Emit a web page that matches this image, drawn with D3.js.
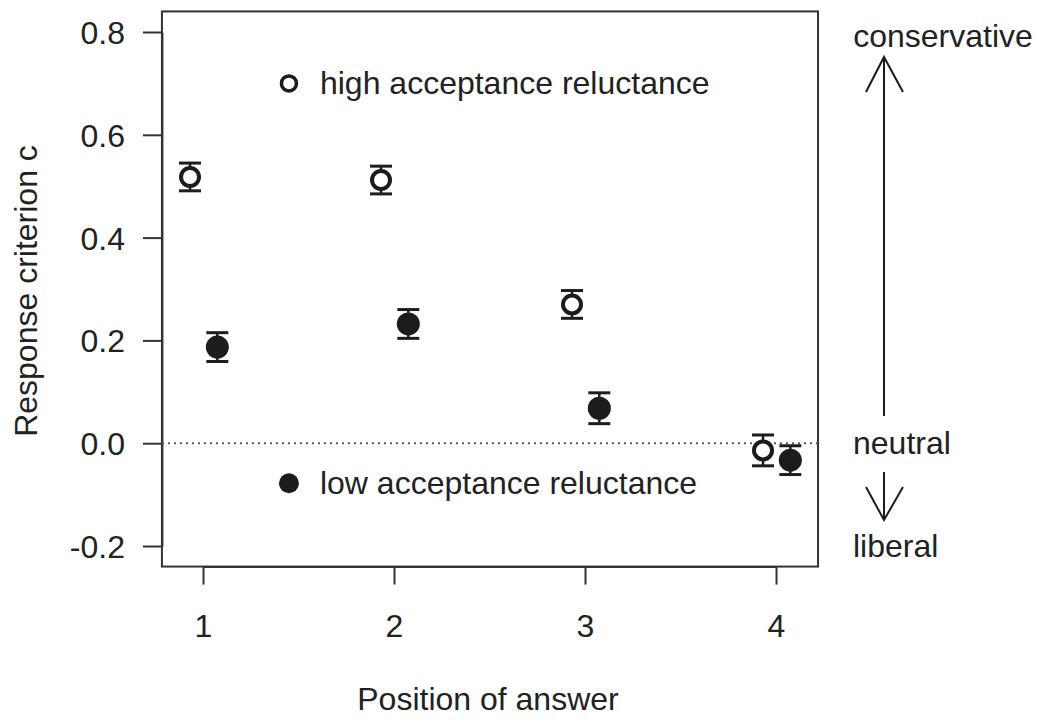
<!DOCTYPE html>
<html>
<head>
<meta charset="utf-8">
<script src="https://cdn.jsdelivr.net/npm/d3@7"></script>
<style>
  body { margin: 0; background: #fff; }
  text { font-family: "Liberation Sans", Arial, sans-serif; fill: #222; }
</style>
</head>
<body>
<div id="chart-area"></div>
<script>
// data
var positions = [1, 2, 3, 4];
var highValues = [0.518, 0.512, 0.270, -0.014];
var highErrors = [0.027, 0.027, 0.027, 0.030];
var lowValues = [0.187, 0.232, 0.068, -0.033];
var lowErrors = [0.028, 0.028, 0.030, 0.028];
var yTicks = [-0.2, 0, 0.2, 0.4, 0.6, 0.8];
var legendLabels = ["high acceptance reluctance", "low acceptance reluctance"];

var width = 1040, height = 722;
var fs = "32px";

var svg = d3.select("#chart-area")
    .append("svg")
    .attr("width", width)
    .attr("height", height);

var x = d3.scaleLinear().domain([1, 4]).range([203, 776]);
var y = d3.scaleLinear().domain([-0.2, 0.8]).range([546, 32]);

var ink = "#1c1c1c";

// plot box
var x0 = x(0.785), x1 = x(4.22), y0 = y(0.84), y1 = y(-0.24);
svg.append("rect")
    .attr("x", x0).attr("y", y0)
    .attr("width", x1 - x0).attr("height", y1 - y0)
    .attr("fill", "none")
    .attr("stroke", "#333")
    .attr("stroke-width", 2);

// axes
var yAxis = d3.axisLeft(y)
    .tickValues(yTicks)
    .tickSize(19)
    .tickSizeOuter(0)
    .tickPadding(18)
    .tickFormat(function (d) { return d.toFixed(1); });

var gy = svg.append("g")
    .attr("transform", "translate(" + x0 + ",0)")
    .call(yAxis);

var xAxis = d3.axisBottom(x)
    .tickValues(positions)
    .tickSize(18)
    .tickSizeOuter(0)
    .tickPadding(30)
    .tickFormat(d3.format("d"));

var gx = svg.append("g")
    .attr("transform", "translate(0," + y1 + ")")
    .call(xAxis);

[gx, gy].forEach(function (g) {
    g.select(".domain").attr("stroke", "#333").attr("stroke-width", 2);
    g.selectAll(".tick line").attr("stroke", "#333").attr("stroke-width", 2);
    g.selectAll(".tick text")
        .attr("fill", "#222")
        .style("font-family", "'Liberation Sans', Arial, sans-serif")
        .style("font-size", fs);
});
gy.selectAll(".tick text").attr("dy", "0.36em");

// axis titles
svg.append("text")
    .attr("x", (x0 + x1) / 2 - 2)
    .attr("y", 710)
    .attr("text-anchor", "middle")
    .style("font-size", fs)
    .text("Position of answer");

svg.append("text")
    .attr("transform", "translate(37," + ((y0 + y1) / 2 + 2) + ") rotate(-90)")
    .attr("text-anchor", "middle")
    .style("font-size", fs)
    .text("Response criterion c");

// zero reference line
svg.append("line")
    .attr("x1", x0).attr("x2", x1)
    .attr("y1", y(0)).attr("y2", y(0))
    .attr("stroke", "#555")
    .attr("stroke-width", 2)
    .attr("stroke-dasharray", "2,4");

// points with error bars
var series = [
    { values: highValues, errors: highErrors, offset: -0.068, filled: false },
    { values: lowValues, errors: lowErrors, offset: 0.075, filled: true }
];

series.forEach(function (s) {
    var pts = positions.map(function (p, i) {
        return { x: p + s.offset, v: s.values[i], e: s.errors[i] };
    });
    var g = svg.append("g");
    var capW = 11;

    g.selectAll(".bar")
        .data(pts).enter()
        .append("line")
        .attr("x1", function (d) { return x(d.x); })
        .attr("x2", function (d) { return x(d.x); })
        .attr("y1", function (d) { return y(d.v + d.e); })
        .attr("y2", function (d) { return y(d.v - d.e); })
        .attr("stroke", ink).attr("stroke-width", 2.5);

    g.selectAll(".capTop")
        .data(pts).enter()
        .append("line")
        .attr("x1", function (d) { return x(d.x) - capW; })
        .attr("x2", function (d) { return x(d.x) + capW; })
        .attr("y1", function (d) { return y(d.v + d.e); })
        .attr("y2", function (d) { return y(d.v + d.e); })
        .attr("stroke", ink).attr("stroke-width", 3);

    g.selectAll(".capBot")
        .data(pts).enter()
        .append("line")
        .attr("x1", function (d) { return x(d.x) - capW; })
        .attr("x2", function (d) { return x(d.x) + capW; })
        .attr("y1", function (d) { return y(d.v - d.e); })
        .attr("y2", function (d) { return y(d.v - d.e); })
        .attr("stroke", ink).attr("stroke-width", 3);

    g.selectAll("circle")
        .data(pts).enter()
        .append("circle")
        .attr("cx", function (d) { return x(d.x); })
        .attr("cy", function (d) { return y(d.v); })
        .attr("r", s.filled ? 11.5 : 9)
        .attr("fill", s.filled ? ink : "#fff")
        .attr("stroke", ink)
        .attr("stroke-width", s.filled ? 0 : 4);
});

// in-plot legend
var legendPos = [{ x: 1.45, y: 0.70, filled: false }, { x: 1.45, y: -0.078, filled: true }];
legendPos.forEach(function (l, i) {
    svg.append("circle")
        .attr("cx", x(l.x)).attr("cy", y(l.y))
        .attr("r", l.filled ? 10 : 7.5)
        .attr("fill", l.filled ? ink : "#fff")
        .attr("stroke", ink)
        .attr("stroke-width", l.filled ? 0 : 3.5);
    svg.append("text")
        .attr("x", x(l.x) + 31)
        .attr("y", y(l.y))
        .attr("dy", "0.34em")
        .style("font-size", fs)
        .text(legendLabels[i]);
});

// right-hand annotation
var ax = 884;
svg.append("text").attr("x", 943).attr("y", 47).attr("text-anchor", "middle")
    .style("font-size", fs).text("conservative");
svg.append("text").attr("x", 853).attr("y", y(0) + 11)
    .style("font-size", fs).text("neutral");
svg.append("text").attr("x", 853).attr("y", y(-0.2) + 11)
    .style("font-size", fs).text("liberal");

svg.append("line").attr("x1", ax).attr("x2", ax).attr("y1", 416).attr("y2", 57)
    .attr("stroke", ink).attr("stroke-width", 2);
svg.append("path").attr("d", "M866,92L" + ax + ",57L903,92")
    .attr("fill", "none").attr("stroke", ink).attr("stroke-width", 2);
svg.append("line").attr("x1", ax).attr("x2", ax).attr("y1", 472).attr("y2", 520)
    .attr("stroke", ink).attr("stroke-width", 2);
svg.append("path").attr("d", "M866,487L" + ax + ",520L903,487")
    .attr("fill", "none").attr("stroke", ink).attr("stroke-width", 2);
</script>
</body>
</html>
